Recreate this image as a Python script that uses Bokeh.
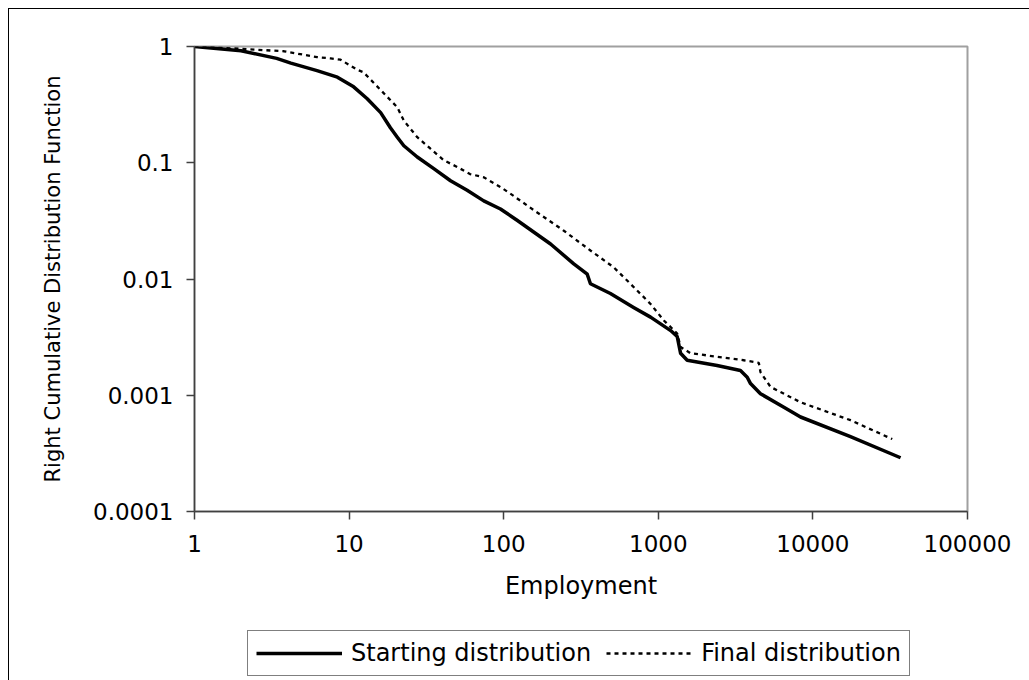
from bokeh.plotting import figure
from bokeh.models import Range1d, FixedTicker, Legend, LegendItem
from bokeh.layouts import column
from bokeh.embed import file_html
from bokeh.resources import INLINE

# ---- data ----
start_x = [1, 2, 3.4, 4.2, 6.2, 8.4, 10.7, 13.1, 16, 18.5, 20.5, 22.6, 27.6, 35.3, 45.3, 58,
           74.3, 95.3, 122, 201, 284, 347, 364, 490, 692, 891, 1202, 1325, 1393, 1538,
           2400, 3400, 3760, 3950, 4580, 6490, 8320, 17500, 36900]
start_y = [1.0, 0.92, 0.79, 0.72, 0.62, 0.545, 0.45, 0.355, 0.27, 0.20, 0.166, 0.14, 0.112,
           0.089, 0.070, 0.058, 0.047, 0.040, 0.032, 0.020, 0.0135, 0.011, 0.0091, 0.0075,
           0.0057, 0.0047, 0.0036, 0.0032, 0.0023, 0.0020, 0.0018, 0.00163, 0.00143, 0.00126,
           0.00103, 0.00079, 0.00065, 0.00044, 0.00029]

final_x = [1, 2, 3.8, 6.2, 7.6, 8.8, 11.3, 12.4, 20.5, 22.6, 27.6, 33.6, 41, 50, 60.5, 74.3,
           95, 111, 157, 245, 364, 515, 660, 891, 1086, 1325, 1393, 1615, 3570, 4470, 4580,
           5320, 8320, 17500, 32600]
final_y = [1.0, 0.955, 0.91, 0.81, 0.79, 0.77, 0.63, 0.60, 0.30, 0.23, 0.166, 0.132, 0.105,
           0.092, 0.080, 0.075, 0.062, 0.054, 0.039, 0.026, 0.0176, 0.0126, 0.0091, 0.0061,
           0.0044, 0.0034, 0.0026, 0.0023, 0.0020, 0.0019, 0.00158, 0.00118, 0.00087,
           0.00061, 0.00042]

x_ticks = [1, 10, 100, 1000, 10000, 100000]
x_tick_labels = ["1", "10", "100", "1000", "10000", "100000"]
y_ticks = [0.0001, 0.001, 0.01, 0.1, 1]
y_tick_labels = ["0.0001", "0.001", "0.01", "0.1", "1"]

series_names = ["Starting distribution", "Final distribution"]

FONT = "DejaVu Sans"
START_STYLE = dict(line_color="black", line_width=3.5, line_join="round")
FINAL_STYLE = dict(line_color="black", line_width=2.3, line_dash="4 4")

# ---- main chart ----
p = figure(width=1020, height=611, x_axis_type="log", y_axis_type="log",
           x_range=Range1d(1, 100000), y_range=Range1d(0.0001, 1),
           output_backend="svg", toolbar_location=None,
           min_border_left=185, min_border_top=37, min_border_right=62,
           min_border_bottom=109)

p.grid.visible = False
p.outline_line_color = "#a0a0a0"
p.outline_line_width = 2
p.background_fill_color = "white"
p.border_fill_color = "white"

for ax in (p.xaxis[0], p.yaxis[0]):
    ax.axis_line_color = "#404040"
    ax.axis_line_width = 1.5
    ax.major_tick_line_color = "#404040"
    ax.major_tick_line_width = 1.5
    ax.major_tick_in = 0
    ax.major_tick_out = 8
    ax.minor_tick_line_color = None
    ax.major_label_text_font = FONT
    ax.major_label_text_font_size = "23px"
    ax.major_label_text_color = "black"
    ax.axis_label_text_font = FONT
    ax.axis_label_text_font_style = "normal"
    ax.axis_label_text_color = "black"

p.xaxis.ticker = FixedTicker(ticks=x_ticks)
p.xaxis.major_label_overrides = {t: l for t, l in zip(x_ticks, x_tick_labels)}
p.xaxis.major_label_standoff = 15
p.xaxis.axis_label = "Employment"
p.xaxis.axis_label_text_font_size = "24px"
p.xaxis.axis_label_standoff = 17

p.yaxis.ticker = FixedTicker(ticks=y_ticks)
p.yaxis.major_label_overrides = {t: l for t, l in zip(y_ticks, y_tick_labels)}
p.yaxis.major_label_standoff = 13
p.yaxis.axis_label = "Right Cumulative Distribution Function"
p.yaxis.axis_label_text_font_size = "21px"
p.yaxis.axis_label_standoff = 25

p.line(start_x, start_y, **START_STYLE)
p.line(final_x, final_y, **FINAL_STYLE)

# ---- legend strip (same series and line styles; the data lie outside its view) ----
pl = figure(width=1020, height=60, x_range=Range1d(0, 1), y_range=Range1d(2, 3),
            x_axis_location=None, y_axis_location=None,
            output_backend="svg", toolbar_location=None,
            min_border=0, outline_line_color=None)
pl.grid.visible = False
pl.background_fill_color = "white"
pl.border_fill_color = "white"
k_start = pl.line(start_x, start_y, **START_STYLE)
k_final = pl.line(final_x, final_y, **FINAL_STYLE)

legend = Legend(items=[LegendItem(label=series_names[0], renderers=[k_start]),
                       LegendItem(label=series_names[1], renderers=[k_final])],
                orientation="horizontal", location=(53, 4),
                border_line_color="black", border_line_width=1,
                background_fill_color="white", background_fill_alpha=1,
                padding=8, spacing=15, margin=0,
                glyph_width=86, glyph_height=24, label_height=24,
                label_standoff=9, label_text_font=FONT,
                label_text_font_size="24px", label_text_color="black")
pl.add_layout(legend, "center")

layout = column(p, pl, spacing=0,
                styles={"margin-left": "8px", "margin-top": "8px",
                        "border-left": "1px solid black",
                        "border-top": "1px solid black"})

open("out.html", "w").write(file_html(layout, INLINE))
